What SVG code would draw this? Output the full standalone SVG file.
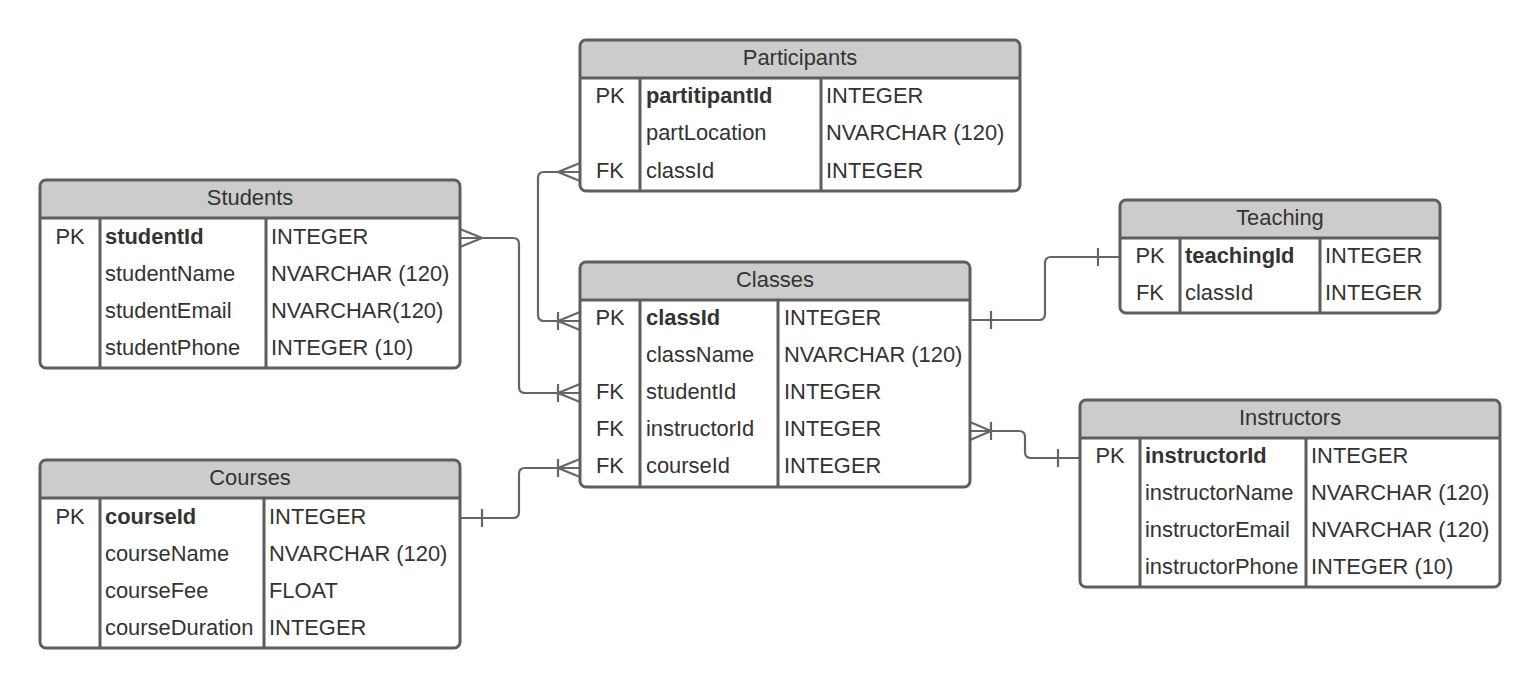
<svg xmlns="http://www.w3.org/2000/svg" width="1540" height="688" viewBox="0 0 1540 688">
<style>
.box{fill:#ffffff;stroke:none}
.frame{fill:none;stroke:#5e5e5e;stroke-width:3}
.head{fill:#cccccc;stroke:none}
.div{stroke:#5e5e5e;stroke-width:3;fill:none}
text{font-family:"Liberation Sans",Arial,sans-serif;font-size:21.9px;fill:#333333}
.t{text-anchor:middle}
.k{text-anchor:middle}
.b{font-weight:bold}
.c{fill:none;stroke:#666666;stroke-width:2.2}
</style>
<rect width="1540" height="688" fill="#ffffff"/>

<g id="connectors">
<path class="c" d="M580,172 H544 Q538,172 538,178 V315 Q538,321 544,321 H580"/>
<path class="c" d="M580,163 L558,172 L580,181 M558,312 V330 M580,312 L558,321 L580,330"/>
<path class="c" d="M460,238 H513 Q519,238 519,244 V387 Q519,393 525,393 H580"/>
<path class="c" d="M460,229 L482,238 L460,247 M558,384 V402 M580,384 L558,393 L580,402"/>
<path class="c" d="M460,518 H513 Q519,518 519,512 V474 Q519,468 525,468 H580"/>
<path class="c" d="M482,509 V527 M558,459 V477 M580,459 L558,468 L580,477"/>
<path class="c" d="M970,320 H1039 Q1045,320 1045,314 V263 Q1045,257 1051,257 H1120"/>
<path class="c" d="M991,311 V329 M1098,248 V266"/>
<path class="c" d="M970,431 H1019 Q1025,431 1025,437 V452 Q1025,458 1031,458 H1080"/>
<path class="c" d="M970,422 L991,431 L970,440 M991,422 V440 M1058,449 V467"/>
</g>

<g id="participants">
<rect class="box" x="580" y="40" width="440" height="151" rx="6"/>
<path class="head" d="M580,78 V46 Q580,40 586,40 H1014 Q1020,40 1020,46 V78 Z"/>
<path class="div" d="M580,78 H1020 M640,78 V191 M821,78 V191"/>
<rect class="frame" x="580" y="40" width="440" height="151" rx="6"/>
<text class="t" x="800" y="65">Participants</text>
<text class="k" x="610" y="103">PK</text>
<text class="b" x="646" y="103">partitipantId</text>
<text x="826" y="103">INTEGER</text>
<text x="646" y="140">partLocation</text>
<text x="826" y="140">NVARCHAR (120)</text>
<text class="k" x="610" y="178">FK</text>
<text x="646" y="178">classId</text>
<text x="826" y="178">INTEGER</text>
</g>

<g id="students">
<rect class="box" x="40" y="180" width="420" height="188" rx="6"/>
<path class="head" d="M40,218 V186 Q40,180 46,180 H454 Q460,180 460,186 V218 Z"/>
<path class="div" d="M40,218 H460 M100,218 V368 M266,218 V368"/>
<rect class="frame" x="40" y="180" width="420" height="188" rx="6"/>
<text class="t" x="250" y="205">Students</text>
<text class="k" x="70" y="244">PK</text>
<text class="b" x="105" y="244">studentId</text>
<text x="271" y="244">INTEGER</text>
<text x="105" y="281">studentName</text>
<text x="271" y="281">NVARCHAR (120)</text>
<text x="105" y="318">studentEmail</text>
<text x="271" y="318">NVARCHAR(120)</text>
<text x="105" y="355">studentPhone</text>
<text x="271" y="355">INTEGER (10)</text>
</g>

<g id="classes">
<rect class="box" x="580" y="262" width="390" height="225" rx="6"/>
<path class="head" d="M580,300 V268 Q580,262 586,262 H964 Q970,262 970,268 V300 Z"/>
<path class="div" d="M580,300 H970 M640,300 V487 M778,300 V487"/>
<rect class="frame" x="580" y="262" width="390" height="225" rx="6"/>
<text class="t" x="775" y="287">Classes</text>
<text class="k" x="610" y="325">PK</text>
<text class="b" x="646" y="325">classId</text>
<text x="784" y="325">INTEGER</text>
<text x="646" y="362">className</text>
<text x="784" y="362">NVARCHAR (120)</text>
<text class="k" x="610" y="399">FK</text>
<text x="646" y="399">studentId</text>
<text x="784" y="399">INTEGER</text>
<text class="k" x="610" y="436">FK</text>
<text x="646" y="436">instructorId</text>
<text x="784" y="436">INTEGER</text>
<text class="k" x="610" y="473">FK</text>
<text x="646" y="473">courseId</text>
<text x="784" y="473">INTEGER</text>
</g>

<g id="teaching">
<rect class="box" x="1120" y="200" width="320" height="113" rx="6"/>
<path class="head" d="M1120,238 V206 Q1120,200 1126,200 H1434 Q1440,200 1440,206 V238 Z"/>
<path class="div" d="M1120,238 H1440 M1180,238 V313 M1320,238 V313"/>
<rect class="frame" x="1120" y="200" width="320" height="113" rx="6"/>
<text class="t" x="1280" y="225">Teaching</text>
<text class="k" x="1150" y="263">PK</text>
<text class="b" x="1185" y="263">teachingId</text>
<text x="1325" y="263">INTEGER</text>
<text class="k" x="1150" y="300">FK</text>
<text x="1185" y="300">classId</text>
<text x="1325" y="300">INTEGER</text>
</g>

<g id="instructors">
<rect class="box" x="1080" y="400" width="420" height="187" rx="6"/>
<path class="head" d="M1080,438 V406 Q1080,400 1086,400 H1494 Q1500,400 1500,406 V438 Z"/>
<path class="div" d="M1080,438 H1500 M1140,438 V587 M1306,438 V587"/>
<rect class="frame" x="1080" y="400" width="420" height="187" rx="6"/>
<text class="t" x="1290" y="425">Instructors</text>
<text class="k" x="1110" y="463">PK</text>
<text class="b" x="1145" y="463">instructorId</text>
<text x="1311" y="463">INTEGER</text>
<text x="1145" y="500">instructorName</text>
<text x="1311" y="500">NVARCHAR (120)</text>
<text x="1145" y="537">instructorEmail</text>
<text x="1311" y="537">NVARCHAR (120)</text>
<text x="1145" y="574">instructorPhone</text>
<text x="1311" y="574">INTEGER (10)</text>
</g>

<g id="courses">
<rect class="box" x="40" y="460" width="420" height="188" rx="6"/>
<path class="head" d="M40,498 V466 Q40,460 46,460 H454 Q460,460 460,466 V498 Z"/>
<path class="div" d="M40,498 H460 M100,498 V648 M264,498 V648"/>
<rect class="frame" x="40" y="460" width="420" height="188" rx="6"/>
<text class="t" x="250" y="485">Courses</text>
<text class="k" x="70" y="524">PK</text>
<text class="b" x="105" y="524">courseId</text>
<text x="269" y="524">INTEGER</text>
<text x="105" y="561">courseName</text>
<text x="269" y="561">NVARCHAR (120)</text>
<text x="105" y="598">courseFee</text>
<text x="269" y="598">FLOAT</text>
<text x="105" y="635">courseDuration</text>
<text x="269" y="635">INTEGER</text>
</g>
</svg>
